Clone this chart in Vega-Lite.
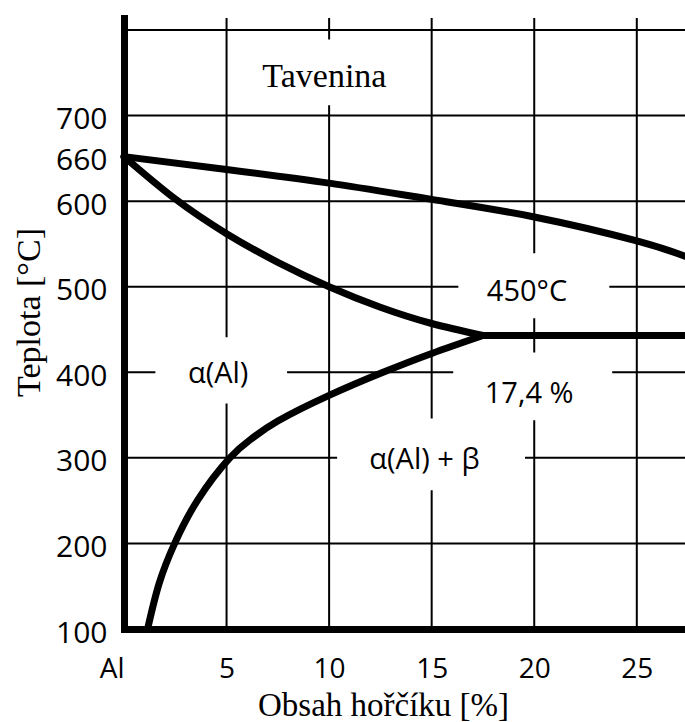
{
  "$schema": "https://vega.github.io/schema/vega-lite/v6.json",
  "width": 561,
  "height": 611,
  "autosize": {"type": "none"},
  "padding": {"left": 124, "top": 18, "right": 0, "bottom": 93},
  "background": "white",
  "config": {"view": {"stroke": null}},
  "datasets": {
    "grid_v": [{"x": 5}, {"x": 10}, {"x": 15}, {"x": 20}, {"x": 25}],
    "grid_h": [{"y": 200}, {"y": 300}, {"y": 400}, {"y": 500}, {"y": 600}, {"y": 700}, {"y": 800}],
    "boxes": [
      {"label": "α(Al)", "x": 1.53, "x2": 7.95, "y": 363.5, "y2": 441},
      {"label": "α(Al) + β", "x": 10.39, "x2": 19.55, "y": 262, "y2": 346},
      {"label": "450°C", "x": 16.3, "x2": 23.66, "y": 463, "y2": 539},
      {"label": "17,4 %", "x": 16.05, "x2": 23.8, "y": 344, "y2": 423},
      {"label": "Tavenina", "x": 6.3, "x2": 13.3, "y": 712, "y2": 789}
    ],
    "curves": [
      {"series": "liquidus", "x": 0, "y": 652},
      {"series": "liquidus", "x": 5, "y": 637},
      {"series": "liquidus", "x": 10, "y": 621},
      {"series": "liquidus", "x": 15, "y": 602},
      {"series": "liquidus", "x": 20, "y": 581.5},
      {"series": "liquidus", "x": 25, "y": 553.5},
      {"series": "liquidus", "x": 27.35, "y": 535.6},
      {"series": "solidus", "x": 0, "y": 652},
      {"series": "solidus", "x": 2.47, "y": 603},
      {"series": "solidus", "x": 5, "y": 562},
      {"series": "solidus", "x": 7.5, "y": 528.5},
      {"series": "solidus", "x": 10, "y": 500},
      {"series": "solidus", "x": 12.5, "y": 476},
      {"series": "solidus", "x": 15, "y": 457},
      {"series": "solidus", "x": 17.5, "y": 443},
      {"series": "eutektikum", "x": 17.5, "y": 443},
      {"series": "eutektikum", "x": 27.35, "y": 443},
      {"series": "solvus", "x": 1.15, "y": 100},
      {"series": "solvus", "x": 1.71, "y": 153},
      {"series": "solvus", "x": 2.47, "y": 200},
      {"series": "solvus", "x": 3.6, "y": 251},
      {"series": "solvus", "x": 5.16, "y": 300},
      {"series": "solvus", "x": 6.2, "y": 322},
      {"series": "solvus", "x": 7.5, "y": 343},
      {"series": "solvus", "x": 10, "y": 373},
      {"series": "solvus", "x": 12.63, "y": 400},
      {"series": "solvus", "x": 15, "y": 422},
      {"series": "solvus", "x": 17.5, "y": 443}
    ],
    "labels": [
      {"label": "Tavenina", "x": 9.77, "y": 733},
      {"label": "α(Al)", "x": 4.59, "y": 397.5},
      {"label": "α(Al) + β", "x": 14.65, "y": 297.7},
      {"label": "450°C", "x": 19.65, "y": 494},
      {"label": "17,4 %", "x": 19.75, "y": 375}
    ]
  },
  "layer": [
    {
      "data": {"name": "grid_v"},
      "mark": {"type": "rule", "color": "black", "strokeWidth": 2},
      "encoding": {
        "x": {
          "field": "x",
          "type": "quantitative",
          "scale": {"domain": [0, 27.35], "nice": false, "zero": false},
          "axis": {
            "title": "Obsah hořčíku [%]",
            "values": [0, 5, 10, 15, 20, 25],
            "labelExpr": "datum.value == 0 ? 'Al' : datum.label",
            "grid": false,
            "ticks": false,
            "tickSize": 0,
            "domain": true,
            "domainColor": "black",
            "domainWidth": 7,
            "domainCap": "square",
            "labelFont": "Open Sans",
            "labelFontSize": 28,
            "labelColor": "black",
            "labelPadding": 26,
            "labelFlush": false,
            "labelOverlap": false,
            "labelAlign": {"condition": {"test": "datum.value == 0", "value": "right"}, "value": "center"},
            "titleFont": "Liberation Serif",
            "titleFontSize": 33,
            "titleFontWeight": "normal",
            "titleColor": "black",
            "titleX": 259,
            "titleY": 86,
            "titleBaseline": "alphabetic",
            "titleAlign": "center",
            "zindex": 1
          }
        }
      }
    },
    {
      "data": {"name": "grid_h"},
      "mark": {"type": "rule", "color": "black", "strokeWidth": 2},
      "encoding": {
        "y": {
          "field": "y",
          "type": "quantitative",
          "scale": {"domain": [100, 814], "nice": false, "zero": false},
          "axis": {
            "title": "Teplota [°C]",
            "values": [100, 200, 300, 400, 500, 600, 652, 700],
            "labelExpr": "datum.value == 652 ? '660' : datum.label",
            "grid": false,
            "ticks": false,
            "tickSize": 0,
            "domain": true,
            "domainColor": "black",
            "domainWidth": 7,
            "domainCap": "square",
            "labelFont": "Open Sans",
            "labelFontSize": 30,
            "labelColor": "black",
            "labelPadding": 17,
            "labelOffset": 4,
            "labelFlush": false,
            "labelOverlap": false,
            "titleFont": "Liberation Serif",
            "titleFontSize": 34,
            "titleFontWeight": "normal",
            "titleColor": "black",
            "titleX": -85,
            "titleY": 294,
            "titleAngle": 270,
            "titleBaseline": "alphabetic",
            "titleAlign": "center",
            "zindex": 1
          }
        }
      }
    },
    {
      "data": {"name": "boxes"},
      "mark": {"type": "rect", "color": "white"},
      "encoding": {
        "x": {"field": "x", "type": "quantitative"},
        "x2": {"field": "x2"},
        "y": {"field": "y", "type": "quantitative"},
        "y2": {"field": "y2"}
      }
    },
    {
      "data": {"name": "curves"},
      "mark": {"type": "line", "color": "black", "strokeWidth": 7, "interpolate": "natural", "strokeCap": "round", "strokeJoin": "round"},
      "encoding": {
        "x": {"field": "x", "type": "quantitative"},
        "y": {"field": "y", "type": "quantitative"},
        "detail": {"field": "series"}
      }
    },
    {
      "data": {"name": "labels"},
      "transform": [{"filter": {"field": "label", "equal": "Tavenina"}}],
      "mark": {"type": "text", "font": "Liberation Serif", "fontSize": 34, "color": "black", "align": "center", "baseline": "alphabetic"},
      "encoding": {
        "x": {"field": "x", "type": "quantitative"},
        "y": {"field": "y", "type": "quantitative"},
        "text": {"field": "label"}
      }
    },
    {
      "data": {"name": "labels"},
      "transform": [{"filter": {"not": {"field": "label", "equal": "Tavenina"}}}],
      "mark": {"type": "text", "font": "Open Sans", "fontSize": 29, "color": "black", "align": "center", "baseline": "middle"},
      "encoding": {
        "x": {"field": "x", "type": "quantitative"},
        "y": {"field": "y", "type": "quantitative"},
        "text": {"field": "label"}
      }
    }
  ]
}
